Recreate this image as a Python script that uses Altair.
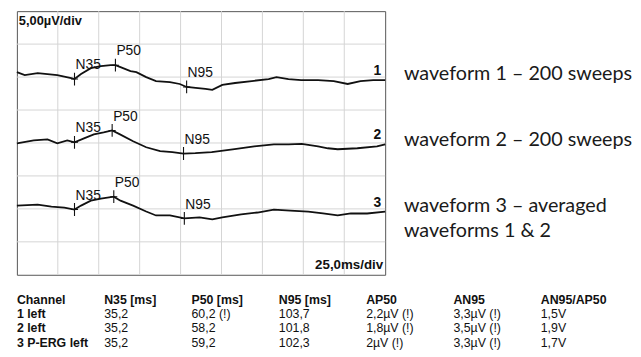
import altair as alt
import pandas as pd

# ---------------- data ----------------
# time (ms) and amplitude (µV, relative to each trace's own baseline)
wf1_t = [0, 4.8, 12.7, 18.7, 24.7, 33.2, 35.2, 39.2, 45.2, 51.3, 57.3, 60.2, 63.3, 69.4, 73.0,
         79.0, 85.0, 93.5, 99.5, 103.7, 109.2, 115.2, 119.4, 125.5, 133.3, 143.5, 153.8, 158.6,
         165.9, 173.7, 184.0, 193.6, 202.1, 209.9, 217.7, 225]
wf1_v = [0.75, 0.3, 0.6, 0.45, 0.3, -0.15, -0.3, 0.45, 1.35, 1.65, 1.8, 1.8, 1.5, 0.9, 0.75,
         0.0, -0.6, -0.75, -1.05, -1.5, -1.65, -1.8, -1.95, -1.2, -0.9, -0.6, -0.3, 0.0,
         -0.3, -0.45, -0.45, -0.6, -1.05, -0.6, -0.45, -0.45]

wf2_t = [0, 10.3, 18.7, 24.7, 30.8, 35.2, 41.0, 47.0, 53.0, 58.2, 63.0, 71.0, 79.0, 87.5, 95.0,
         101.8, 109.0, 119.0, 133.0, 145.0, 157.0, 166.0, 174.0, 184.0, 190.0, 196.0, 208.0,
         220.0, 225]
wf2_v = [-0.05, 0.4, 0.55, -0.05, 0.4, 0.1, 0.7, 1.3, 1.6, 1.9, 1.3, 0.25, -0.65, -1.25, -1.4,
         -1.6, -1.55, -1.4, -0.95, -0.5, -0.2, -0.2, -0.15, -0.5, -0.8, -0.95, -0.8,
         -0.5, -0.2]

wf3_t = [0, 12.7, 21.1, 29.0, 35.2, 39.2, 45.2, 51.3, 59.2, 63.3, 71.0, 79.0, 85.0, 93.5,
         102.3, 111.6, 119.4, 125.5, 137.0, 147.0, 157.0, 167.0, 178.0, 187.0, 196.0, 204.0,
         214.0, 225]
wf3_v = [0.5, 0.65, 0.35, 0.2, -0.1, 0.5, 1.25, 1.55, 1.85, 1.25, 0.5, -0.4, -1.0, -1.0,
         -1.45, -1.3, -1.6, -1.3, -0.85, -0.55, -0.1, -0.25, -0.4, -0.7, -1.0, -0.7,
         -0.7, -0.4]

trace_names = ["1", "2", "3"]
peak_names = ["N35", "P50", "N95"]
n35_ms = [35.2, 35.2, 35.2]
p50_ms = [60.2, 58.2, 59.2]
n95_ms = [103.7, 101.8, 102.3]

right_labels = ["waveform 1 \u2013 200 sweeps", "waveform 2 \u2013 200 sweeps",
                "waveform 3 \u2013 averaged"]
right_label_extra = "waveforms 1 & 2"

table_headers = ["Channel", "N35 [ms]", "P50 [ms]", "N95 [ms]", "AP50", "AN95", "AN95/AP50"]
tab_channel = ["1 left", "2 left", "3 P-ERG left"]
tab_n35 = ["35,2", "35,2", "35,2"]
tab_p50 = ["60,2 (!)", "58,2", "59,2"]
tab_n95 = ["103,7", "101,8", "102,3"]
tab_ap50 = ["2,2\u00b5V (!)", "1,8\u00b5V (!)", "2\u00b5V (!)"]
tab_an95 = ["3,3\u00b5V (!)", "3,5\u00b5V (!)", "3,3\u00b5V (!)"]
tab_ratio = ["1,5V", "1,9V", "1,7V"]

# ---------------- layout constants ----------------
MS_PER_DIV, UV_PER_DIV = 25, 5
N_XDIV, N_YDIV = 9, 8
X_MAX = MS_PER_DIV * N_XDIV
Y_MAX = UV_PER_DIV * N_YDIV
baselines = [Y_MAX - 2 * UV_PER_DIV, Y_MAX - 4 * UV_PER_DIV, Y_MAX - 6 * UV_PER_DIV]
FONT = "Liberation Sans"
INK = "#111"

# ---------------- build tables ----------------
series = [(wf1_t, wf1_v), (wf2_t, wf2_v), (wf3_t, wf3_v)]
rows, peaks, ends = [], [], []
for name, base, (ts, vs), lat in zip(trace_names, baselines, series,
                                      zip(n35_ms, p50_ms, n95_ms)):
    for t, v in zip(ts, vs):
        rows.append({"trace": name, "t": t, "y": base + v})
    lookup = dict(zip(ts, vs))
    for pn, pt in zip(peak_names, lat):
        peaks.append({"trace": name, "peak": pn, "t": pt, "y": base + lookup[pt]})
    ends.append({"trace": name, "t": ts[-1], "y": base + vs[-1]})
wave_df = pd.DataFrame(rows)
peak_df = pd.DataFrame(peaks)
end_df = pd.DataFrame(ends)
vgrid = pd.DataFrame({"t": [MS_PER_DIV * i for i in range(1, N_XDIV)]})
hgrid = pd.DataFrame({"y": [UV_PER_DIV * i for i in range(1, N_YDIV)]})
right_df = pd.DataFrame({"label": right_labels, "t": [X_MAX] * 3, "y": baselines})
right2_df = pd.DataFrame({"label": [right_label_extra], "t": [X_MAX], "y": [baselines[2]]})
corner_df = pd.DataFrame({"label": ["5,00\u00b5V/div", "25,0ms/div"],
                          "t": [0, X_MAX], "y": [Y_MAX, 0]})

xs = alt.Scale(domain=[0, X_MAX], nice=False, zero=False)
ys = alt.Scale(domain=[0, Y_MAX], nice=False, zero=False)


def X(f="t"):
    return alt.X(f"{f}:Q", scale=xs, axis=None)


def Y(f="y"):
    return alt.Y(f"{f}:Q", scale=ys, axis=None)


grid_color = "#d4d4d4"
vg = alt.Chart(vgrid).mark_rule(color=grid_color, strokeWidth=1).encode(x=X())
hg = alt.Chart(hgrid).mark_rule(color=grid_color, strokeWidth=1).encode(y=Y())

lines = alt.Chart(wave_df).mark_line(color=INK, strokeWidth=1.8).encode(
    x=X(), y=Y(), detail="trace:N")

crosses = alt.Chart(peak_df).mark_point(
    shape="M0,-1L0,1M-0.55,0L0.55,0", size=169, filled=False,
    stroke=INK, strokeWidth=1.1, opacity=1).encode(x=X(), y=Y())

peak_labels = alt.Chart(peak_df).mark_text(
    align="left", baseline="middle", dx=1, dy=-14, fontSize=14, font=FONT,
    color=INK).encode(x=X(), y=Y(), text="peak:N")

num_labels = alt.Chart(end_df).mark_text(
    align="right", baseline="middle", dx=-4, dy=-9, fontSize=14, font=FONT,
    fontWeight="bold", color=INK).encode(x=X(), y=Y(), text="trace:N")

corner_top = alt.Chart(corner_df.iloc[[0]]).mark_text(
    align="left", baseline="middle", dx=2, dy=10, fontSize=13, font=FONT,
    fontWeight="bold", color=INK).encode(x=X(), y=Y(), text="label:N")
corner_bot = alt.Chart(corner_df.iloc[[1]]).mark_text(
    align="right", baseline="middle", dx=-2, dy=-10, fontSize=13.5, font=FONT,
    fontWeight="bold", color=INK).encode(x=X(), y=Y(), text="label:N")

right_text = alt.Chart(right_df).mark_text(
    align="left", baseline="middle", dx=19, dy=-3, fontSize=20, font="Lato",
    color="#1a1a1a").encode(x=X(), y=Y(), text="label:N")
right_text2 = alt.Chart(right2_df).mark_text(
    align="left", baseline="middle", dx=19, dy=22, fontSize=20, font="Lato",
    color="#1a1a1a").encode(x=X(), y=Y(), text="label:N")

top = alt.layer(vg, hg, lines, crosses, peak_labels, num_labels, corner_top,
                corner_bot, right_text, right_text2).properties(
    width=373, height=267,
    view=alt.ViewBackground(stroke="#555", strokeWidth=1))

# ---------------- table ----------------
cols = [tab_channel, tab_n35, tab_p50, tab_n95, tab_ap50, tab_an95, tab_ratio]
trows = []
for ci, h in enumerate(table_headers):
    trows.append({"col": ci, "row": 0, "text": h, "bold": True})
    for ri, val in enumerate(cols[ci]):
        trows.append({"col": ci, "row": ri + 1, "text": val, "bold": ci == 0})
tab_df = pd.DataFrame(trows)

tx = alt.X("col:O", scale=alt.Scale(type="band", paddingInner=0, paddingOuter=0),
           axis=None, bandPosition=0)
ty = alt.Y("row:O", scale=alt.Scale(type="band", paddingInner=0, paddingOuter=0),
           axis=None)
tab_bold = alt.Chart(tab_df).transform_filter("datum.bold").mark_text(
    align="left", baseline="middle", fontSize=12.5, font=FONT, fontWeight="bold",
    color=INK).encode(x=tx, y=ty, text="text:N")
tab_reg = alt.Chart(tab_df).transform_filter("!datum.bold").mark_text(
    align="left", baseline="middle", fontSize=12.5, font=FONT,
    color=INK).encode(x=tx, y=ty, text="text:N")
table = alt.layer(tab_bold, tab_reg).properties(
    width=619, height=58,
    view=alt.ViewBackground(strokeOpacity=0))

chart = alt.vconcat(top, table, spacing=17).properties(
    padding={"left": 4, "top": 0, "right": 0, "bottom": 0},
    background="white")

chart.save("out.html", embed_options={"renderer": "svg", "actions": False})
